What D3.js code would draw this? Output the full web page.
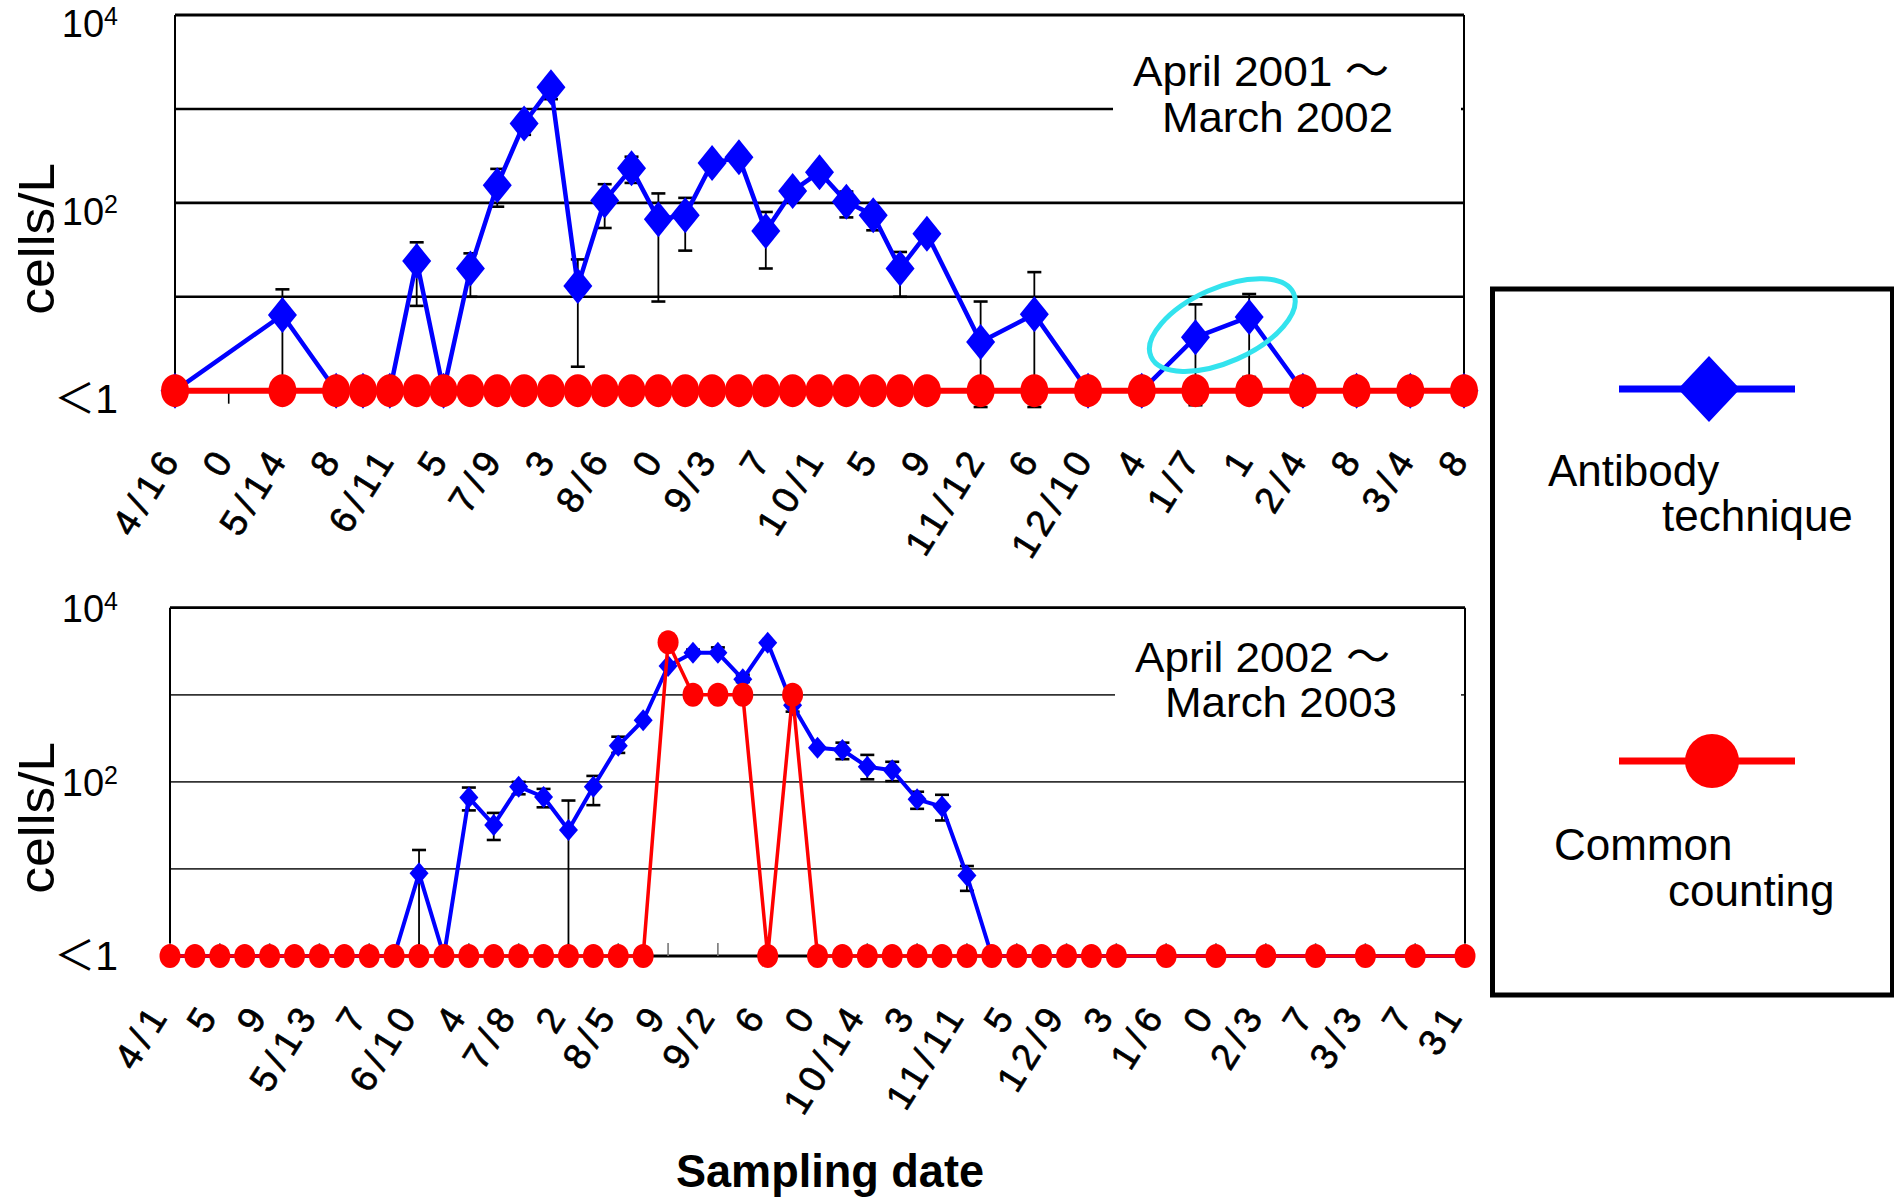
<!DOCTYPE html>
<html>
<head>
<meta charset="utf-8">
<script src="https://cdn.jsdelivr.net/npm/d3@7"></script>
<style>
  body { margin: 0; background: #fff; }
  text { font-family: "Liberation Sans", Arial, "Noto Sans CJK JP", sans-serif; }
</style>
</head>
<body>
<svg id="chart" width="1894" height="1197"></svg>
<script>

// ---- data: April 2001 ~ March 2002 (1 = "<1", not detected)
var topDates = ["2001-04-16","2001-05-14","2001-05-28","2001-06-04","2001-06-11","2001-06-18","2001-06-25",
  "2001-07-02","2001-07-09","2001-07-16","2001-07-23","2001-07-30","2001-08-06","2001-08-13","2001-08-20",
  "2001-08-27","2001-09-03","2001-09-10","2001-09-17","2001-09-24","2001-10-01","2001-10-08","2001-10-15",
  "2001-10-22","2001-10-29","2001-11-12","2001-11-26","2001-12-10","2001-12-24","2002-01-07","2002-01-21",
  "2002-02-04","2002-02-18","2002-03-04","2002-03-18"];
var topAntibody = [1, 6.4, 1, 1, 1, 24, 1, 20, 154, 700, 1700, 13, 106, 233, 67, 74, 265, 305, 50, 134,
  212, 103, 74, 20, 47, 3.3, 6.5, 1, 1, 3.7, 6.1, 1, 1, 1, 1];
var topAntibodyLo = [null, 1, null, null, null, 8, null, 10, 91, 530, 1270, 1.8, 54, 163, 8.9, 31, null, null, 20, null,
  null, 70, 51, 10, null, 0.67, 0.67, null, null, 0.7, 1.4, null, null, null, null];
var topAntibodyHi = [null, 12, null, null, null, 38, null, 29, 230, null, null, 25, 158, 310, 126, 113, null, null, 80, null,
  null, 132, null, 30, null, 8.9, 18.3, null, null, 8.3, 10.7, null, null, null, null];
var topCommon = [1, 1, 1, 1, 1, 1, 1, 1, 1, 1, 1, 1, 1, 1, 1, 1, 1, 1, 1, 1,
  1, 1, 1, 1, 1, 1, 1, 1, 1, 1, 1, 1, 1, 1, 1];
var topTickLabels = ["4/16","0","5/14","8","6/11","5","7/9","3","8/6","0","9/3","7","10/1","5","9",
  "11/12","6","12/10","4","1/7","1","2/4","8","3/4","8"];

// ---- data: April 2002 ~ March 2003
var botDates = ["2002-04-01","2002-04-08","2002-04-15","2002-04-22","2002-04-29","2002-05-06","2002-05-13",
  "2002-05-20","2002-05-27","2002-06-03","2002-06-10","2002-06-17","2002-06-24","2002-07-01","2002-07-08",
  "2002-07-15","2002-07-22","2002-07-29","2002-08-05","2002-08-12","2002-08-19","2002-08-26","2002-09-02",
  "2002-09-09","2002-09-16","2002-09-23","2002-09-30","2002-10-07","2002-10-14","2002-10-21","2002-10-28",
  "2002-11-04","2002-11-11","2002-11-18","2002-11-25","2002-12-02","2002-12-09","2002-12-16","2002-12-23",
  "2003-01-06","2003-01-20","2003-02-03","2003-02-17","2003-03-03","2003-03-17","2003-03-31"];
var botAntibody = [1, 1, 1, 1, 1, 1, 1, 1, 1, 1, 8.9, 1, 66, 32, 88, 67, 28, 88, 260, 510,
  2140, 3030, 3030, 1510, 3950, 760, 246, 232, 149, 136, 63, 52, 8.4, 1, 1, 1, 1, 1, 1,
  1, 1, 1, 1, 1, 1, 1];
var botAntibodyLo = [null, null, null, null, null, null, null, null, null, null, 1, null, 47, 21.5, 72, 51, 1, 54, 215, null,
  null, null, null, 1400, null, 640, null, 182, 107, 102, 49, 36, 5.6, null, null, null, null, null, null,
  null, null, null, null, null, null, null];
var botAntibodyHi = [null, null, null, null, null, null, null, null, null, null, 16.5, null, 86, 44, 100, 83, 61, 117, 330, null,
  null, 3300, 3500, 1700, null, null, null, 282, 204, 170, 77, 71, 10.8, null, null, null, null, null, null,
  null, null, null, null, null, null, null];
var botCommon = [1, 1, 1, 1, 1, 1, 1, 1, 1, 1, 1, 1, 1, 1, 1, 1, 1, 1, 1, 1,
  4000, 1000, 1000, 1000, 1, 1000, 1, 1, 1, 1, 1, 1, 1, 1, 1, 1, 1, 1, 1,
  1, 1, 1, 1, 1, 1, 1];
var botTickLabels = ["4/1","5","9","5/13","7","6/10","4","7/8","2","8/5","9","9/2","6","0","10/14",
  "3","11/11","5","12/9","3","1/6","0","2/3","7","3/3","7","31"];

var yTicks = [1, 100, 10000];
var yTickBase = ["\uFF1C1", "10", "10"];
var yTickSup = ["", "2", "4"];
var gridValues = [10, 100, 1000];

var parse = d3.utcParse("%Y-%m-%d");
var svg = d3.select("#chart");

var panels = [
  { dates: topDates, ab: topAntibody, lo: topAntibodyLo, hi: topAntibodyHi, cc: topCommon, labels: topTickLabels,
    start: "2001-04-16", end: "2002-03-18", left: 175, right: 1464, top: 15, base: 390.7,
    gridW: 2.6, gridColor: "#000", tickDir: 1, tickColor: "#000", labelDx: 8, labelDy: 66,
    yLabelDy: 22, diamond: [14.5, 18], circle: [14, 16.5], abW: 4.5, ccW: 6,
    title: ["April 2001 \uFF5E", "March 2002"], titleY: [86, 131.7], titleX: [1133, 1162], titleLen: [256, 231],
    mask: [1113, 40, 348, 110], ellipse: true },
  { dates: botDates, ab: botAntibody, lo: botAntibodyLo, hi: botAntibodyHi, cc: botCommon, labels: botTickLabels,
    start: "2002-04-01", end: "2003-03-31", left: 170, right: 1465, top: 607.7, base: 956,
    gridW: 1.8, gridColor: "#333", tickDir: -1, tickColor: "#777", labelDx: 1, labelDy: 57,
    yLabelDy: 14, diamond: [9.5, 11], circle: [10.5, 12], abW: 4, ccW: 3.5,
    title: ["April 2002 \uFF5E", "March 2003"], titleY: [671.7, 716.7], titleX: [1135, 1165], titleLen: [255, 232],
    mask: [1115, 625, 346, 110], ellipse: false }
];

panels.forEach(drawPanel);

function drawPanel(p) {
  var x = d3.scaleUtc().domain([parse(p.start), parse(p.end)]).range([p.left, p.right]);
  var y = d3.scaleLog().domain([1, 10000]).range([p.base, p.top]);
  var g = svg.append("g");

  // gridlines
  g.selectAll(".grid").data(gridValues).enter().append("line")
      .attr("x1", p.left).attr("x2", p.right)
      .attr("y1", function (d) { return y(d); }).attr("y2", function (d) { return y(d); })
      .attr("stroke", p.gridColor).attr("stroke-width", p.gridW);

  // frame
  g.append("line").attr("x1", p.left).attr("x2", p.right).attr("y1", y(10000)).attr("y2", y(10000))
      .attr("stroke", "#000").attr("stroke-width", 2.8);
  g.append("line").attr("x1", p.right).attr("x2", p.right).attr("y1", y(10000)).attr("y2", y(1))
      .attr("stroke", "#000").attr("stroke-width", 2);
  g.append("line").attr("x1", p.left).attr("x2", p.left).attr("y1", y(10000)).attr("y2", y(1))
      .attr("stroke", "#000").attr("stroke-width", 2);
  g.append("line").attr("x1", p.left).attr("x2", p.right).attr("y1", y(1)).attr("y2", y(1))
      .attr("stroke", "#000").attr("stroke-width", 2.8);

  // ticks every 14 days
  var tickDates = d3.utcDay.range(parse(p.start), d3.utcDay.offset(parse(p.end), 1), 14);
  g.selectAll(".tick").data(tickDates).enter().append("line")
      .attr("x1", function (d) { return x(d); }).attr("x2", function (d) { return x(d); })
      .attr("y1", y(1)).attr("y2", y(1) + 13 * p.tickDir)
      .attr("stroke", p.tickColor).attr("stroke-width", 1.6);

  // x labels
  g.selectAll(".xl").data(tickDates).enter().append("text")
      .attr("transform", function (d) {
        return "translate(" + (x(d) + p.labelDx) + "," + (y(1) + p.labelDy) + ") rotate(-58)";
      })
      .attr("text-anchor", "end")
      .attr("stroke", "#000").attr("stroke-width", 0.7)
      .style("font-size", "37px")
      .style("letter-spacing", "6px")
      .text(function (d, i) { return p.labels[i]; });

  // title box
  g.append("rect").attr("x", p.mask[0]).attr("y", p.mask[1]).attr("width", p.mask[2]).attr("height", p.mask[3])
      .attr("fill", "#fff");
  p.title.forEach(function (t, i) {
    g.append("text").attr("x", p.titleX[i]).attr("y", p.titleY[i])
        .attr("textLength", p.titleLen[i]).attr("lengthAdjust", "spacingAndGlyphs")
        .style("font-size", "43px").text(t);
  });

  // y labels
  yTicks.forEach(function (v, i) {
    var t = g.append("text").attr("x", 118).attr("y", y(v) + p.yLabelDy)
        .attr("text-anchor", "end").style("font-size", i === 0 ? "41px" : "38px");
    t.append("tspan").text(yTickBase[i]);
    if (yTickSup[i]) t.append("tspan").attr("dy", -12).style("font-size", "25px").text(yTickSup[i]);
  });

  g.append("text")
      .attr("transform", "translate(54," + ((y(1) + y(10000)) / 2 + 36) + ") rotate(-90)")
      .attr("text-anchor", "middle")
      .attr("textLength", 152).attr("lengthAdjust", "spacingAndGlyphs")
      .style("font-size", "50px")
      .text("cells/L");

  var pts = p.dates.map(function (d, i) {
    return { date: parse(d), ab: p.ab[i], lo: p.lo[i], hi: p.hi[i], cc: p.cc[i] };
  });

  // error bars
  var eb = g.append("g").attr("stroke", "#000").attr("stroke-width", 1.8);
  pts.forEach(function (d) {
    [d.lo, d.hi].forEach(function (e) {
      if (e == null) return;
      eb.append("line").attr("x1", x(d.date)).attr("x2", x(d.date)).attr("y1", y(d.ab)).attr("y2", y(e));
      eb.append("line").attr("x1", x(d.date) - 7).attr("x2", x(d.date) + 7).attr("y1", y(e)).attr("y2", y(e))
          .attr("stroke-width", 2.6);
    });
  });

  // antibody technique
  var abLine = d3.line().x(function (d) { return x(d.date); }).y(function (d) { return y(d.ab); });
  g.append("path").datum(pts).attr("d", abLine).attr("fill", "none")
      .attr("stroke", "#0000ff").attr("stroke-width", p.abW).attr("stroke-linejoin", "round");
  var w = p.diamond[0], h = p.diamond[1];
  g.selectAll(".dia").data(pts).enter().append("path")
      .attr("d", "M0," + (-h) + "L" + w + ",0L0," + h + "L" + (-w) + ",0Z")
      .attr("transform", function (d) { return "translate(" + x(d.date) + "," + y(d.ab) + ")"; })
      .attr("fill", "#0000ff");

  // common counting
  var ccLine = d3.line().x(function (d) { return x(d.date); }).y(function (d) { return y(d.cc); });
  g.append("path").datum(pts).attr("d", ccLine).attr("fill", "none")
      .attr("stroke", "#ff0000").attr("stroke-width", p.ccW);
  g.selectAll(".dot").data(pts).enter().append("ellipse")
      .attr("cx", function (d) { return x(d.date); })
      .attr("cy", function (d) { return y(d.cc); })
      .attr("rx", p.circle[0]).attr("ry", p.circle[1])
      .attr("fill", "#ff0000");

  if (p.ellipse) {
    g.append("ellipse")
        .attr("transform", "translate(" + x(parse("2002-01-14")) + "," + y(5) + ") rotate(-24)")
        .attr("rx", 78).attr("ry", 37)
        .attr("fill", "none").attr("stroke", "#33e3ee").attr("stroke-width", 5);
  }
}

// x axis title
svg.append("text").attr("x", 830).attr("y", 1187).attr("text-anchor", "middle")
    .attr("textLength", 308).attr("lengthAdjust", "spacingAndGlyphs")
    .style("font-size", "47px").style("font-weight", "bold").text("Sampling date");

// legend
var legend = svg.append("g");
legend.append("rect").attr("x", 1492.5).attr("y", 289).attr("width", 400).attr("height", 706)
    .attr("fill", "#fff").attr("stroke", "#000").attr("stroke-width", 5);
legend.append("line").attr("x1", 1619).attr("x2", 1795).attr("y1", 389).attr("y2", 389)
    .attr("stroke", "#0000ff").attr("stroke-width", 7);
legend.append("path").attr("d", "M0,-33L31,0L0,33L-31,0Z").attr("transform", "translate(1709,389)")
    .attr("fill", "#0000ff");
legend.append("line").attr("x1", 1619).attr("x2", 1795).attr("y1", 761).attr("y2", 761)
    .attr("stroke", "#ff0000").attr("stroke-width", 7);
legend.append("ellipse").attr("cx", 1712).attr("cy", 761).attr("rx", 27).attr("ry", 27).attr("fill", "#ff0000");
[["Antibody", 1548, 486], ["technique", 1662, 531], ["Common", 1554, 860], ["counting", 1668, 906]]
  .forEach(function (t) {
    legend.append("text").attr("x", t[1]).attr("y", t[2]).style("font-size", "44px").text(t[0]);
  });

</script>
</body>
</html>
